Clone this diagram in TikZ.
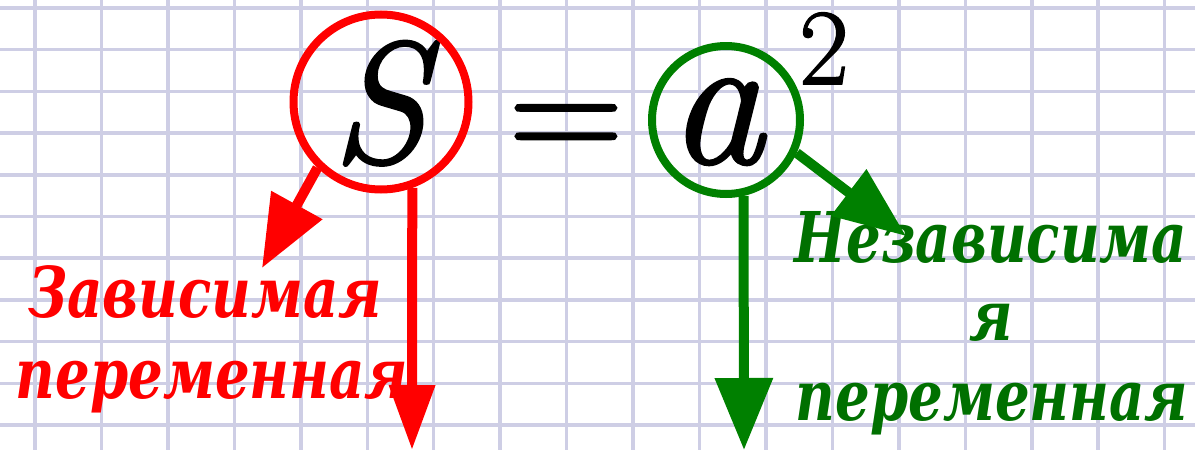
\documentclass[tikz,border=0pt]{standalone}
\usepackage{fontspec}
\newfontfamily\labfam{DejaVu Serif}[FakeStretch=0.78]
\newfontfamily\symfam{Latin Modern Roman}[FakeBold=1.5]
\usetikzlibrary{arrows.meta}
\definecolor{gridblue}{RGB}{206,206,229}
\definecolor{depred}{RGB}{255,0,0}
\definecolor{indgreen}{RGB}{0,128,0}
\definecolor{indtext}{RGB}{0,112,0}
\newcommand{\labfont}{\labfam\fontsize{70}{80}\selectfont\bfseries\itshape}

\begin{document}
\begin{tikzpicture}[x=1pt,y=-1pt,
  sym/.style={inner sep=0pt,anchor=base},
  lab/.style={inner sep=0pt,anchor=base,font=\labfont},
  ring/.style={circle,draw,line width=8pt,inner sep=0pt,minimum size=#1},
  ptr/.style={line width=10pt,-{Triangle[length=72pt,width=56pt]}}]
  \useasboundingbox (0,0) rectangle (1195,450);
  % squared paper
  \fill[white] (0,0) rectangle (1195,450);
  \foreach \i in {0,...,17}
    \draw[gridblue,line width=3.5pt] ({35+66.45*\i},0) -- ({35+66.45*\i},450);
  \foreach \j in {0,...,10}
    \draw[gridblue,line width=3.5pt] (0,{8+41.7*\j}) -- (1195,{8+41.7*\j});
  % formula
  \node[sym,font=\symfam\fontsize{172}{180}\selectfont\itshape] (S) at (379,162) {S};
  \node[sym,font=\symfam\fontsize{160}{180}\selectfont] (eq) at (566,162) {=};
  \node[sym,font=\symfam\fontsize{190}{200}\selectfont\itshape] (a) at (716,163) {a};
  \node[sym,font=\symfam\fontsize{108}{120}\selectfont] (sq) at (824,84) {2};
  \node[ring=175pt,draw=depred] (cS) at (381,102) {};
  \node[ring=148pt,draw=indgreen] (ca) at (726,120) {};
  % labels
  \node[lab,depred] (dep1) at (205,317) {Зависимая};
  \node[lab,depred] (dep2) at (212,398) {переменная};
  \node[lab,indtext] (ind1) at (991,262) {Независима};
  \node[lab,indtext] (ind2) at (991,340) {я};
  \node[lab,indtext] (ind3) at (992,420) {переменная};
  % pointers
  \coordinate (sLeft) at (262,268);
  \coordinate (sDown) at (412,450);
  \coordinate (aDown) at (744,450);
  \coordinate (aRight) at (906,236);
  \draw[ptr,depred] (cS.226) -- (sLeft);
  \draw[ptr,depred,-{Triangle[length=65pt,width=44pt]}] (cS.290) -- (sDown);
  \draw[ptr,indgreen] (ca.283) -- (aDown);
  \draw[ptr,indgreen] (ca.335) -- (aRight);
\end{tikzpicture}
\end{document}
